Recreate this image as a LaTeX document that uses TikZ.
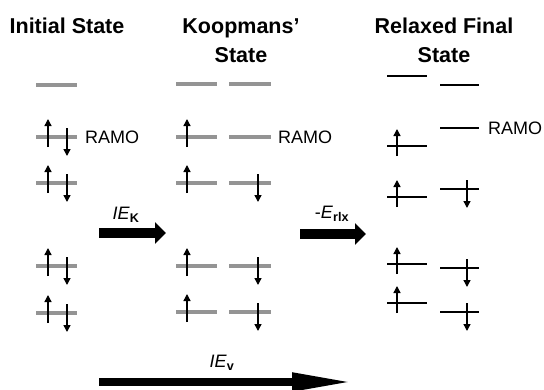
\documentclass[tikz,border=0pt]{standalone}
\usepackage{fontspec}
\setmainfont{Liberation Sans}
\usetikzlibrary{arrows.meta}
\begin{document}
\begin{tikzpicture}[x=1pt,y=-1pt,
  glevel/.style={draw=black!42,line width=3.6pt},
  blevel/.style={draw=black,line width=2pt},
  bthick/.style={draw=black,line width=2.8pt},
  spinup/.style={draw=black,line width=1.4pt,-{Triangle[length=7pt,width=7pt]}},
  title/.style={font=\bfseries\fontsize{21.5}{29}\selectfont,align=center,inner sep=0pt},
  lab/.style={font=\fontsize{18}{20}\selectfont,inner sep=0pt,anchor=west},
  elab/.style={font=\fontsize{18}{20}\selectfont,inner sep=0pt},
  bigarrow/.style={line width=10pt,-{Triangle[length=11pt,width=21pt]}}]
\useasboundingbox (0,0) rectangle (544,389);
\fill[white] (0,0) rectangle (544,389);
% titles
\node[title,anchor=base] (t1) at (67,33) {Initial State};
\node[title,anchor=base] (t2) at (241,62) {Koopmans’\\State};
\node[title,anchor=base] (t3) at (444,62) {Relaxed Final\\State};
% initial state
\foreach \y in {85,137,183,266,313} {\draw[glevel] (36,\y) -- (77,\y);}
\foreach \y in {137,183,266,313} {
  \draw[spinup] (48,\y+10) -- (48,\y-18);
  \draw[spinup] (67,\y-9) -- (67,\y+19);}
\node[lab] (r1) at (85,137) {RAMO};
% Koopmans state
\foreach \y in {84,137,183,266,312} {\draw[glevel] (176,\y) -- (217,\y); \draw[glevel] (229,\y) -- (271,\y);}
\foreach \y in {137,183,266,312} {\draw[spinup] (187,\y+10) -- (187,\y-18);}
\foreach \y in {183,266,312} {\draw[spinup] (258,\y-9) -- (258,\y+19);}
\node[lab] (r2) at (278,137) {RAMO};
% relaxed final state
\draw[bthick] (387,76) -- (427,76);
\draw[blevel] (440,85) -- (479,85);
\draw[blevel] (440,128) -- (479,128);
\node[lab] (r3) at (488,128) {RAMO};
\foreach \y/\w in {146/blevel,197/bthick,264/bthick,303/blevel} {
  \draw[\w] (387,\y) -- (427,\y);
  \draw[spinup] (397,\y+10) -- (397,\y-17);}
\foreach \y/\w in {189/bthick,268/bthick,312/bthick} {
  \draw[\w] (440,\y) -- (479,\y);
  \draw[spinup] (467,\y-9) -- (467,\y+19);}
% big arrows
\coordinate (k1) at (99,233);
\coordinate (k2) at (166,233);
\draw[bigarrow] (k1) -- (k2);
\node[elab] (lk) at (126,215) {\textit{IE}\textsubscript{\bfseries K}};
\coordinate (e1) at (300,234);
\coordinate (e2) at (366,234);
\draw[bigarrow] (e1) -- (e2);
\node[elab] (le) at (332,214) {-\textit{E}\textsubscript{\bfseries rlx}};
\coordinate (v1) at (99,382);
\coordinate (v2) at (354,382);
\draw[line width=8pt,-{Triangle[length=62pt,width=17pt]}] (v1) -- (v2);
\node[elab] (lv) at (222,363) {\textit{IE}\textsubscript{\bfseries v}};
\end{tikzpicture}
\end{document}
